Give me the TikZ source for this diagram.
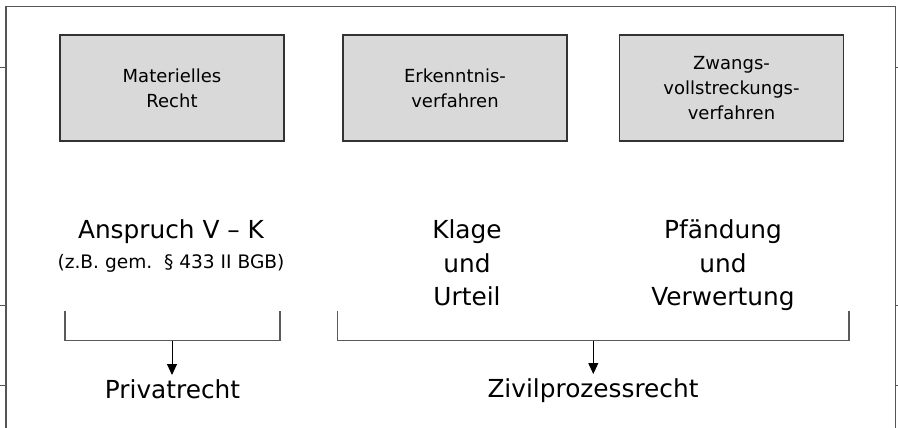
\documentclass[tikz,border=0pt]{standalone}
\usepackage{fontspec}
\setmainfont{DejaVu Sans}
\usetikzlibrary{arrows.meta}
\definecolor{boxfill}{HTML}{D9D9D9}
\definecolor{boxline}{HTML}{333333}
\definecolor{frameline}{HTML}{555555}
\definecolor{brline}{HTML}{5A5A5A}
\begin{document}
\begin{tikzpicture}[x=1pt,y=-1pt,
  box/.style={draw=boxline, fill=boxfill, line width=1.2pt, minimum width=224pt,
    minimum height=106pt, inner sep=0pt, align=center,
    font=\fontsize{18}{25}\selectfont},
  bigtxt/.style={font=\fontsize{24.8}{33.5}\selectfont, anchor=base, inner sep=0pt},
  smalltxt/.style={font=\fontsize{18.6}{22}\selectfont, anchor=base, inner sep=0pt},
  bracket/.style={draw=brline, line width=1.2pt},
  arr/.style={draw=black, line width=0.9pt, -{Triangle[width=10pt,length=11pt]}},
  tick/.style={draw=frameline, line width=0.6pt}]
\useasboundingbox (0,0) rectangle (898,428);
% outer frame (open at bottom)
\draw[frameline, line width=1.3pt] (6,428) -- (6,6.5) -- (895.5,6.5) -- (895.5,428);
% small tick marks outside the frame
\foreach \yy in {67,305,385} {
  \draw[tick] (0,\yy) -- (6,\yy);
  \draw[tick] (895.5,\yy) -- (898,\yy);
}
% boxes
\node[box] (mr) at (172,88) {Materielles\\Recht};
\node[box] (ev) at (455,88) {Erkenntnis-\\verfahren};
\node[box] (zv) at (731.5,88) {Zwangs-\\vollstreckungs-\\verfahren};
% middle texts
\node[bigtxt] (ans) at (171,238.3) {Anspruch V – K};
\node[smalltxt] (bgb) at (171,268) {(z.B. gem.\ \ § 433 II BGB)};
\node[bigtxt] (kl1) at (467,238.3) {Klage};
\node[bigtxt] (kl2) at (467,272) {und};
\node[bigtxt] (kl3) at (467,305.5) {Urteil};
\node[bigtxt] (pf1) at (723,238.3) {Pfändung};
\node[bigtxt] (pf2) at (723,272) {und};
\node[bigtxt] (pf3) at (723,305.5) {Verwertung};
% brackets
\coordinate (b1a) at (65,310.7);
\coordinate (b1b) at (280,310.7);
\coordinate (b1m) at (172,340.7);
\coordinate (b2a) at (337.7,310.7);
\coordinate (b2b) at (849,310.7);
\coordinate (b2m) at (593.3,340.7);
\draw[bracket] (b1a) |- (b1b |- b1m) -- (b1b);
\draw[bracket] (b2a) |- (b2b |- b2m) -- (b2b);
% bottom labels
\node[bigtxt] (pr) at (172.5,398.3) {Privatrecht};
\node[bigtxt] (zp) at (593,397) {Zivilprozessrecht};
% arrows
\coordinate (t1) at (172,375);
\coordinate (t2) at (593.3,374);
\draw[arr] (b1m) -- (t1);
\draw[arr] (b2m) -- (t2);
\end{tikzpicture}
\end{document}
